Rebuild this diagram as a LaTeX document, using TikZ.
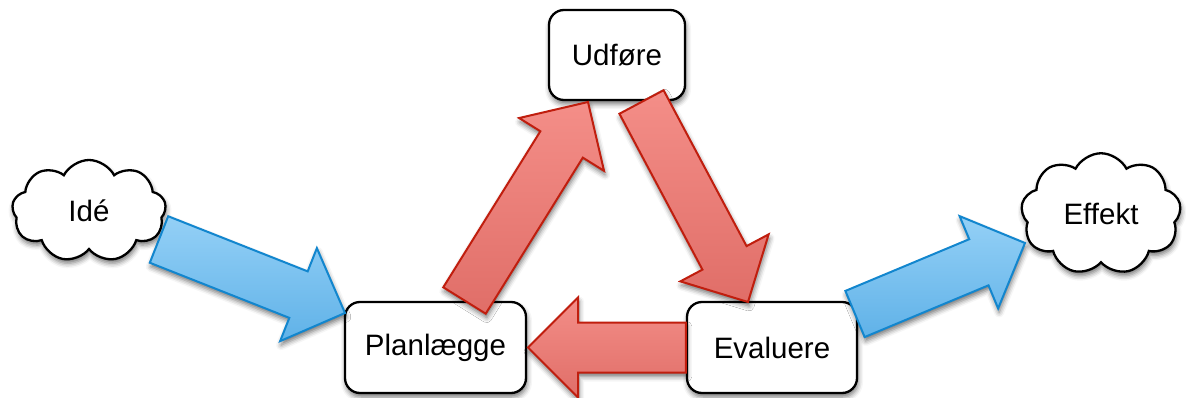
\documentclass[tikz,border=0pt]{standalone}
\usepackage{fontspec}
\setmainfont{Liberation Sans}
\usetikzlibrary{shapes.symbols,shadows.blur,calc}
\definecolor{redL}{RGB}{244,142,136}
\definecolor{redD}{RGB}{224,110,104}
\definecolor{redB}{RGB}{192,30,14}
\definecolor{blueL}{RGB}{148,208,246}
\definecolor{blueD}{RGB}{96,178,232}
\definecolor{blueB}{RGB}{18,134,206}
\tikzset{
  softshadow/.style={blur shadow={shadow xshift=1pt, shadow yshift=-4pt, shadow blur radius=5pt, shadow opacity=55}},
  box/.style={draw=black, line width=2.3pt, fill=white, rounded corners=15pt,
    inner sep=0pt, font=\fontsize{29.5}{35}\selectfont, softshadow},
  cloudy/.style={cloud, cloud puffs=9, cloud puff arc=125, draw=black, line width=2.3pt,
    fill=white, inner sep=0pt, font=\fontsize{29.5}{35}\selectfont, softshadow},
  redarrow/.style={draw=redB, line width=2pt, line join=miter, left color=redL, right color=redD, shading angle=0, softshadow},
  bluearrow/.style={draw=blueB, line width=2pt, line join=miter, top color=blueL, bottom color=blueD, softshadow}
}
\newcommand\blockarrow[3]{%
  \coordinate (#2-#3-base) at ($(#3)!50pt!(#2)$);
  \path[#1] ($(#2)!25pt!90:(#3)$) -- ($(#2-#3-base)!25pt!-90:(#2)$) -- ($(#2-#3-base)!50pt!-90:(#2)$)
    -- (#3) -- ($(#2-#3-base)!50pt!90:(#2)$) -- ($(#2-#3-base)!25pt!90:(#2)$)
    -- ($(#2)!25pt!-90:(#3)$) -- cycle;
}
\begin{document}
\begin{tikzpicture}[x=1pt,y=-1pt]
\useasboundingbox (0,0) rectangle (1186,398);
% clouds
\node[cloudy, minimum width=154pt, minimum height=102pt] (ide) at (89,211) {Idé};
\node[cloudy, minimum width=160pt, minimum height=102pt] (effekt) at (1101,214) {Effekt};
% boxes
\node[box, minimum width=136pt, minimum height=90pt] (udfore) at (617,55) {Udføre};
\node[box, minimum width=181pt, minimum height=91pt] (plan) at (435.5,347.5) {Planlægge};
\node[box, minimum width=170pt, minimum height=91pt] (eval) at (772,347.5) {Evaluere};
% connector ends
\coordinate (a1) at (159,239.5);
\coordinate (a2) at (345,313);
\coordinate (b1) at (464.5,300.5);
\coordinate (b2) at (588,102);
\coordinate (c1) at (641.5,102);
\coordinate (c2) at (748,302);
\coordinate (d1) at (eval.west);
\coordinate (d2) at (528,347.5);
\coordinate (e1) at (855,314);
\coordinate (e2) at (1025,243);
% arrows
\blockarrow{bluearrow}{a1}{a2}
\blockarrow{redarrow}{b1}{b2}
\blockarrow{redarrow}{c1}{c2}
\blockarrow{redarrow}{d1}{d2}
\blockarrow{bluearrow}{e1}{e2}
\end{tikzpicture}
\end{document}
